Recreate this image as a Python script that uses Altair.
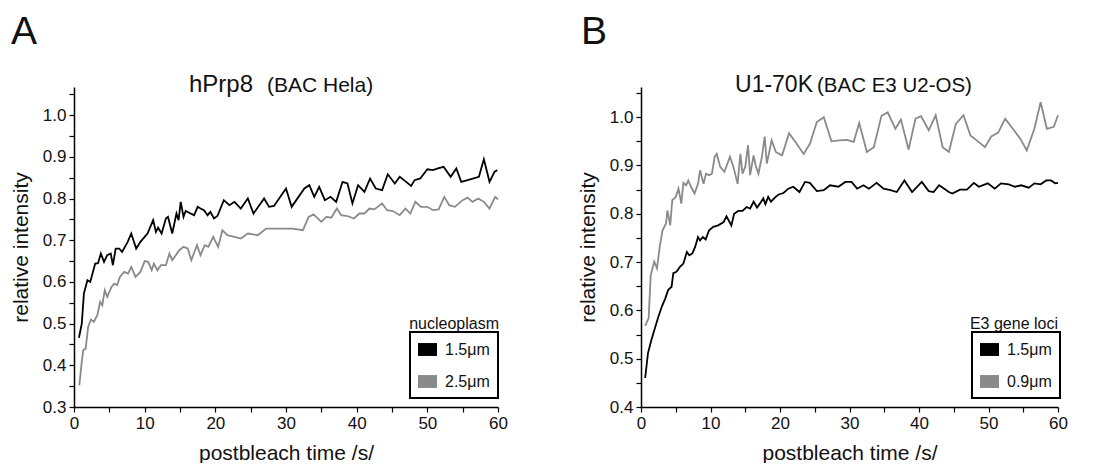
import altair as alt
import pandas as pd

# ---------------- Panel A : hPrp8 (BAC Hela) ----------------
a_black_t = [0.7, 1.1, 1.4, 1.9, 2.3, 3.0, 3.4, 3.8, 4.25, 4.7, 5.2, 5.5, 5.9, 6.4, 6.8, 7.6, 8.1, 8.8, 9.4, 10.4,
             11.2, 11.6, 11.9, 12.4, 13.0, 13.3, 13.9, 14.5, 14.8, 15.1, 15.5, 15.8, 16.5, 17.0, 17.5, 17.9, 18.4,
             18.9, 19.3, 19.8, 20.3, 21.2, 22.0, 22.7, 23.6, 24.6, 25.4, 26.9, 27.6, 28.3, 30.0, 30.8, 32.6, 33.3,
             34.0, 34.7, 35.5, 36.3, 37.1, 38.0, 38.7, 39.4, 40.2, 41.1, 41.9, 42.7, 43.6, 44.4, 45.4, 46.1, 47.0,
             47.7, 48.2, 49.0, 50.0, 50.8, 51.5, 52.3, 53.3, 54.1, 54.8, 55.7, 57.3, 58.0, 58.8, 59.5, 59.9]
a_black_v = [0.466, 0.50, 0.572, 0.604, 0.60, 0.644, 0.645, 0.668, 0.648, 0.664, 0.668, 0.64, 0.68, 0.68, 0.672,
             0.696, 0.716, 0.68, 0.696, 0.716, 0.748, 0.72, 0.73, 0.716, 0.752, 0.756, 0.716, 0.764, 0.748, 0.792,
             0.756, 0.77, 0.764, 0.76, 0.78, 0.776, 0.772, 0.76, 0.768, 0.752, 0.758, 0.796, 0.784, 0.792, 0.776,
             0.80, 0.764, 0.80, 0.78, 0.782, 0.824, 0.78, 0.824, 0.832, 0.804, 0.828, 0.796, 0.804, 0.792, 0.84,
             0.836, 0.788, 0.832, 0.816, 0.848, 0.824, 0.82, 0.858, 0.836, 0.852, 0.84, 0.83, 0.844, 0.848, 0.87,
             0.868, 0.872, 0.876, 0.852, 0.872, 0.84, 0.844, 0.852, 0.894, 0.84, 0.864, 0.868]
a_gray_t = [0.75, 1.1, 1.3, 1.65, 2.0, 2.4, 2.8, 3.3, 3.7, 4.0, 4.35, 4.7, 5.3, 5.7, 6.1, 6.5, 7.1, 7.65, 8.1, 8.7,
            9.4, 10.0, 10.5, 11.0, 11.3, 11.8, 12.3, 13.0, 13.5, 13.9, 14.9, 15.5, 16.1, 16.6, 17.4, 17.9, 18.5,
            19.0, 19.7, 20.4, 21.0, 21.7, 22.7, 23.6, 24.6, 26.0, 27.2, 28.3, 29.8, 30.9, 32.4, 33.2, 33.9, 35.0,
            35.7, 36.4, 37.2, 37.8, 38.7, 39.6, 40.4, 41.1, 41.8, 42.5, 43.6, 44.3, 45.1, 46.1, 46.9, 47.6, 48.3,
            49.1, 50.0, 50.8, 51.6, 52.4, 53.1, 53.9, 55.0, 55.7, 56.4, 57.2, 58.0, 58.8, 59.6, 60.0]
a_gray_v = [0.352, 0.408, 0.436, 0.44, 0.492, 0.51, 0.504, 0.52, 0.552, 0.544, 0.58, 0.564, 0.588, 0.596, 0.592,
            0.612, 0.624, 0.62, 0.636, 0.612, 0.624, 0.65, 0.648, 0.628, 0.644, 0.628, 0.64, 0.64, 0.668, 0.652,
            0.676, 0.684, 0.68, 0.652, 0.688, 0.664, 0.688, 0.684, 0.708, 0.684, 0.724, 0.712, 0.708, 0.704, 0.716,
            0.712, 0.728, 0.728, 0.728, 0.728, 0.724, 0.756, 0.762, 0.744, 0.756, 0.754, 0.776, 0.76, 0.758, 0.752,
            0.764, 0.764, 0.776, 0.774, 0.788, 0.772, 0.77, 0.76, 0.776, 0.764, 0.792, 0.78, 0.78, 0.772, 0.774,
            0.804, 0.784, 0.78, 0.796, 0.802, 0.792, 0.8, 0.792, 0.776, 0.804, 0.798]

# ---------------- Panel B : U1-70K (BAC E3 U2-OS) ----------------
b_black_t = [0.6, 1.0, 1.5, 2.0, 2.5, 3.0, 3.5, 3.9, 4.4, 4.65, 5.1, 5.6, 6.1, 6.6, 6.95, 7.4, 7.8, 8.2, 8.5, 8.9,
             9.3, 9.8, 10.4, 11.1, 11.9, 12.3, 13.0, 13.4, 14.0, 14.6, 15.2, 15.7, 16.2, 16.7, 17.1, 17.6, 17.9,
             18.3, 18.7, 19.3, 19.8, 20.5, 21.2, 21.9, 22.8, 23.6, 24.3, 25.3, 26.3, 27.2, 28.4, 29.4, 30.3, 31.1,
             32.0, 32.8, 33.9, 34.9, 35.9, 36.8, 37.9, 39.0, 40.4, 41.4, 42.1, 42.9, 44.3, 44.8, 45.9, 46.9, 47.9,
             48.6, 49.9, 50.9, 51.8, 52.9, 53.8, 54.7, 55.8, 56.6, 57.5, 58.3, 59.0, 59.6, 60.0]
b_black_v = [0.46, 0.511, 0.539, 0.563, 0.587, 0.608, 0.625, 0.642, 0.649, 0.677, 0.68, 0.69, 0.697, 0.721, 0.714,
             0.718, 0.732, 0.752, 0.745, 0.752, 0.747, 0.766, 0.773, 0.776, 0.783, 0.795, 0.776, 0.80, 0.806, 0.806,
             0.814, 0.811, 0.825, 0.813, 0.821, 0.832, 0.82, 0.835, 0.825, 0.834, 0.84, 0.843, 0.852, 0.856, 0.845,
             0.866, 0.864, 0.847, 0.849, 0.859, 0.856, 0.866, 0.866, 0.852, 0.859, 0.852, 0.864, 0.852, 0.849, 0.845,
             0.869, 0.845, 0.866, 0.847, 0.845, 0.859, 0.845, 0.842, 0.85, 0.85, 0.864, 0.856, 0.863, 0.852, 0.863,
             0.861, 0.856, 0.859, 0.854, 0.863, 0.861, 0.869, 0.869, 0.863, 0.864]
b_gray_t = [0.6, 1.1, 1.4, 1.9, 2.3, 2.7, 3.1, 3.6, 3.8, 4.2, 4.5, 5.0, 5.4, 5.8, 6.1, 6.5, 6.8, 7.2, 7.7, 8.2, 8.5,
            9.0, 9.35, 9.8, 10.2, 10.6, 10.9, 11.4, 12.0, 12.8, 13.3, 13.9, 14.3, 14.6, 15.0, 15.4, 15.7, 16.2, 16.5,
            16.9, 17.4, 17.8, 18.1, 18.4, 18.8, 19.4, 20.3, 21.3, 22.4, 23.4, 24.3, 25.3, 26.3, 27.4, 28.5, 29.6,
            30.6, 31.4, 32.5, 33.5, 34.6, 35.5, 36.6, 37.4, 38.5, 39.5, 40.3, 41.4, 42.4, 43.4, 44.3, 45.3, 46.4,
            47.4, 48.3, 49.5, 50.4, 51.4, 52.4, 53.5, 54.6, 55.5, 56.6, 57.5, 58.4, 59.4, 60.0]
b_gray_v = [0.568, 0.584, 0.673, 0.701, 0.687, 0.732, 0.766, 0.78, 0.807, 0.776, 0.828, 0.835, 0.852, 0.821, 0.864,
            0.859, 0.869, 0.856, 0.842, 0.862, 0.89, 0.862, 0.883, 0.88, 0.883, 0.918, 0.924, 0.897, 0.887, 0.918,
            0.897, 0.862, 0.924, 0.883, 0.897, 0.942, 0.88, 0.921, 0.9, 0.883, 0.918, 0.96, 0.904, 0.924, 0.952,
            0.928, 0.921, 0.967, 0.945, 0.924, 0.945, 0.99, 1.0, 0.95, 0.952, 0.953, 0.949, 0.988, 0.928, 0.938,
            1.003, 1.01, 0.976, 0.995, 0.933, 0.997, 1.002, 0.973, 1.004, 0.938, 0.928, 0.986, 1.004, 0.962, 0.952,
            0.938, 0.96, 0.968, 0.997, 0.976, 0.955, 0.931, 0.976, 1.031, 0.976, 0.98, 1.004]

# ---------------- labels ----------------
a_series = ["1.5μm", "2.5μm"]
b_series = ["1.5μm", "0.9μm"]
series_colors = ["#000000", "#8a8a8a"]
a_title = ["hPrp8", "(BAC Hela)"]
b_title = ["U1-70K", "(BAC E3 U2-OS)"]
a_legend_title = "nucleoplasm"
b_legend_title = "E3 gene loci"
panel_letters = ["A", "B"]
x_ticks = [0, 5, 10, 15, 20, 25, 30, 35, 40, 45, 50, 55, 60]
a_y_ticks = [0.3, 0.35, 0.4, 0.45, 0.5, 0.55, 0.6, 0.65, 0.7, 0.75, 0.8, 0.85, 0.9, 0.95, 1.0, 1.05]
b_y_ticks = [0.4, 0.45, 0.5, 0.55, 0.6, 0.65, 0.7, 0.75, 0.8, 0.85, 0.9, 0.95, 1.0, 1.05]
x_title = "postbleach time /s/"
y_title = "relative intensity"

FONT = "Liberation Sans"
RECT_SYMBOL = "M-1,-0.68H1V0.68H-1Z"


def make_df(series, t1, v1, t2, v2):
    rows = [{"t": t, "v": v, "s": series[0]} for t, v in zip(t1, v1)]
    rows += [{"t": t, "v": v, "s": series[1]} for t, v in zip(t2, v2)]
    return pd.DataFrame(rows)


def text_layer(txt, size, x, y, align):
    return alt.Chart(pd.DataFrame({"label": [txt]})).mark_text(
        font=FONT, fontSize=size, align=align, baseline="alphabetic", color="#111111"
    ).encode(text="label:N", x=alt.value(x), y=alt.value(y))


def panel(df, series, width, height, ydomain, yticks, title, title_x, title_sizes,
          leg_title, leg_x, leg_y, leg_right, letter, letter_x):
    cscale = alt.Scale(domain=series, range=series_colors)
    legend = alt.Legend(title=None, orient="none", legendX=leg_x, legendY=leg_y,
                        symbolType=RECT_SYMBOL, symbolSize=361, symbolStrokeWidth=0,
                        symbolOpacity=1,
                        labelFontSize=16, labelFont=FONT, labelColor="#111111",
                        labelOffset=8, rowPadding=14, padding=8,
                        strokeColor="#000000")
    # legend carrier: one clipped-away filled rectangle symbol per series
    keys = alt.Chart(pd.DataFrame({"s": series})).mark_point(
        shape=RECT_SYMBOL, filled=True, clip=True, opacity=1
    ).encode(
        x=alt.value(-400), y=alt.value(-400),
        color=alt.Color("s:N", scale=cscale, legend=legend),
    )
    lines = alt.Chart(df).mark_line(strokeJoin="miter").encode(
        x=alt.X("t:Q", scale=alt.Scale(domain=[0, 60], nice=False, zero=False),
                axis=alt.Axis(values=x_ticks, title=x_title,
                              labelExpr="datum.value % 10 == 0 ? format(datum.value, 'd') : ''")),
        y=alt.Y("v:Q", scale=alt.Scale(domain=ydomain, nice=False, zero=False),
                axis=alt.Axis(values=yticks, title=y_title,
                              labelExpr="round(datum.value * 20) % 2 == 0 ? format(datum.value, '.1f') : ''")),
        color=alt.Color("s:N", scale=cscale, legend=legend),
        order="t:Q",
        strokeWidth=alt.value(1.8),
    )
    layers = [
        keys,
        lines,
        text_layer(title[0], title_sizes[0], title_x[0], 5, "right"),
        text_layer(title[1], title_sizes[1], title_x[1], 5, "left"),
        text_layer(leg_title, 16, leg_right, 242, "right"),
        text_layer(letter, 39, letter_x, -43, "left"),
    ]
    return alt.layer(*layers).properties(width=width, height=height)


df_a = make_df(a_series, a_black_t, a_black_v, a_gray_t, a_gray_v)
df_b = make_df(b_series, b_black_t, b_black_v, b_gray_t, b_gray_v)

pa = panel(df_a, a_series, 424, 320, [0.3, 1.0674], a_y_ticks, a_title, [179, 193], [24, 21],
           a_legend_title, 336, 245, 425, panel_letters[0], -63)
pb = panel(df_b, b_series, 417, 320, [0.4, 1.0625], b_y_ticks, b_title, [172, 176], [23, 20.5],
           b_legend_title, 331, 245, 417, panel_letters[1], -60)

chart = alt.hconcat(pa, pb, spacing=69).resolve_scale(
    color="independent", x="independent", y="independent"
).properties(
    padding={"left": 2, "top": 5, "right": 0, "bottom": 0}
).configure_view(stroke=None).configure_axis(
    domainColor="#000000", tickColor="#000000", domainWidth=1.5, tickWidth=1.2, tickSize=5,
    labelFont=FONT, titleFont=FONT, labelFontSize=17, titleFontSize=21, titleFontWeight="normal",
    labelColor="#111111", titleColor="#111111", grid=False, labelPadding=3, titlePadding=11,
    labelFlush=False
).configure_legend(strokeWidth=2)

chart.save("out.html", embed_options={"renderer": "svg", "actions": False})
